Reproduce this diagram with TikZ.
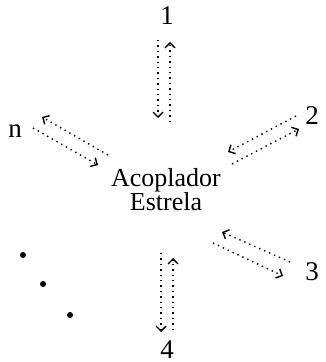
\documentclass[tikz,border=0pt]{standalone}
\usepackage{fontspec}
\setmainfont{Liberation Serif}
\usetikzlibrary{arrows.meta,positioning,calc}
\tikzset{
  port/.style={font=\fontsize{13.5}{13.5}\selectfont, inner sep=1pt},
  link/.style={dotted, line width=0.7pt, -{Straight Barb[length=2.5pt,width=5pt]}},
  dotnode/.style={circle, fill=black, inner sep=0pt, minimum size=3pt}
}
\begin{document}
\begin{tikzpicture}[x=0.5pt, y=-0.5pt]
    \useasboundingbox (0,0) rectangle (325,362);
    % Star coupler
    \node[align=center, font=\fontsize{13}{12}\selectfont] (hub) at (166,190) {Acoplador\\Estrela};

    % Port labels
    \node[port] (p1) at (167,16) {1};
    \node[port] (p2) at (312,116) {2};
    \node[port] (p3) at (312,272) {3};
    \node[port] (p4) at (167,350) {4};
    \node[port] (pn) at (15,131) {n};

    % Ellipsis for the remaining ports
    \node[dotnode] (d1) at (23,255) {};
    \node[dotnode] (d2) at (43,284) {};
    \node[dotnode] (d3) at (70,315) {};

    % Links: a pair of opposed dotted arrows per port
    \foreach \name/\xa/\ya/\xb/\yb in {
        oa/158/40/158/118, ob/170/122/170/42,
        ta/296/116/228/152, tb/232/164/299/129,
        na/108/155/42/117, nb/33/128/98/165,
        ra/290/262/222/232, rb/213/243/283/276,
        fa/161/253/161/332, fb/173/330/173/258} {
        \coordinate (\name-s) at (\xa,\ya);
        \coordinate (\name-e) at (\xb,\yb);
        \draw[link] (\name-s) -- (\name-e);
    }
\end{tikzpicture}
\end{document}
